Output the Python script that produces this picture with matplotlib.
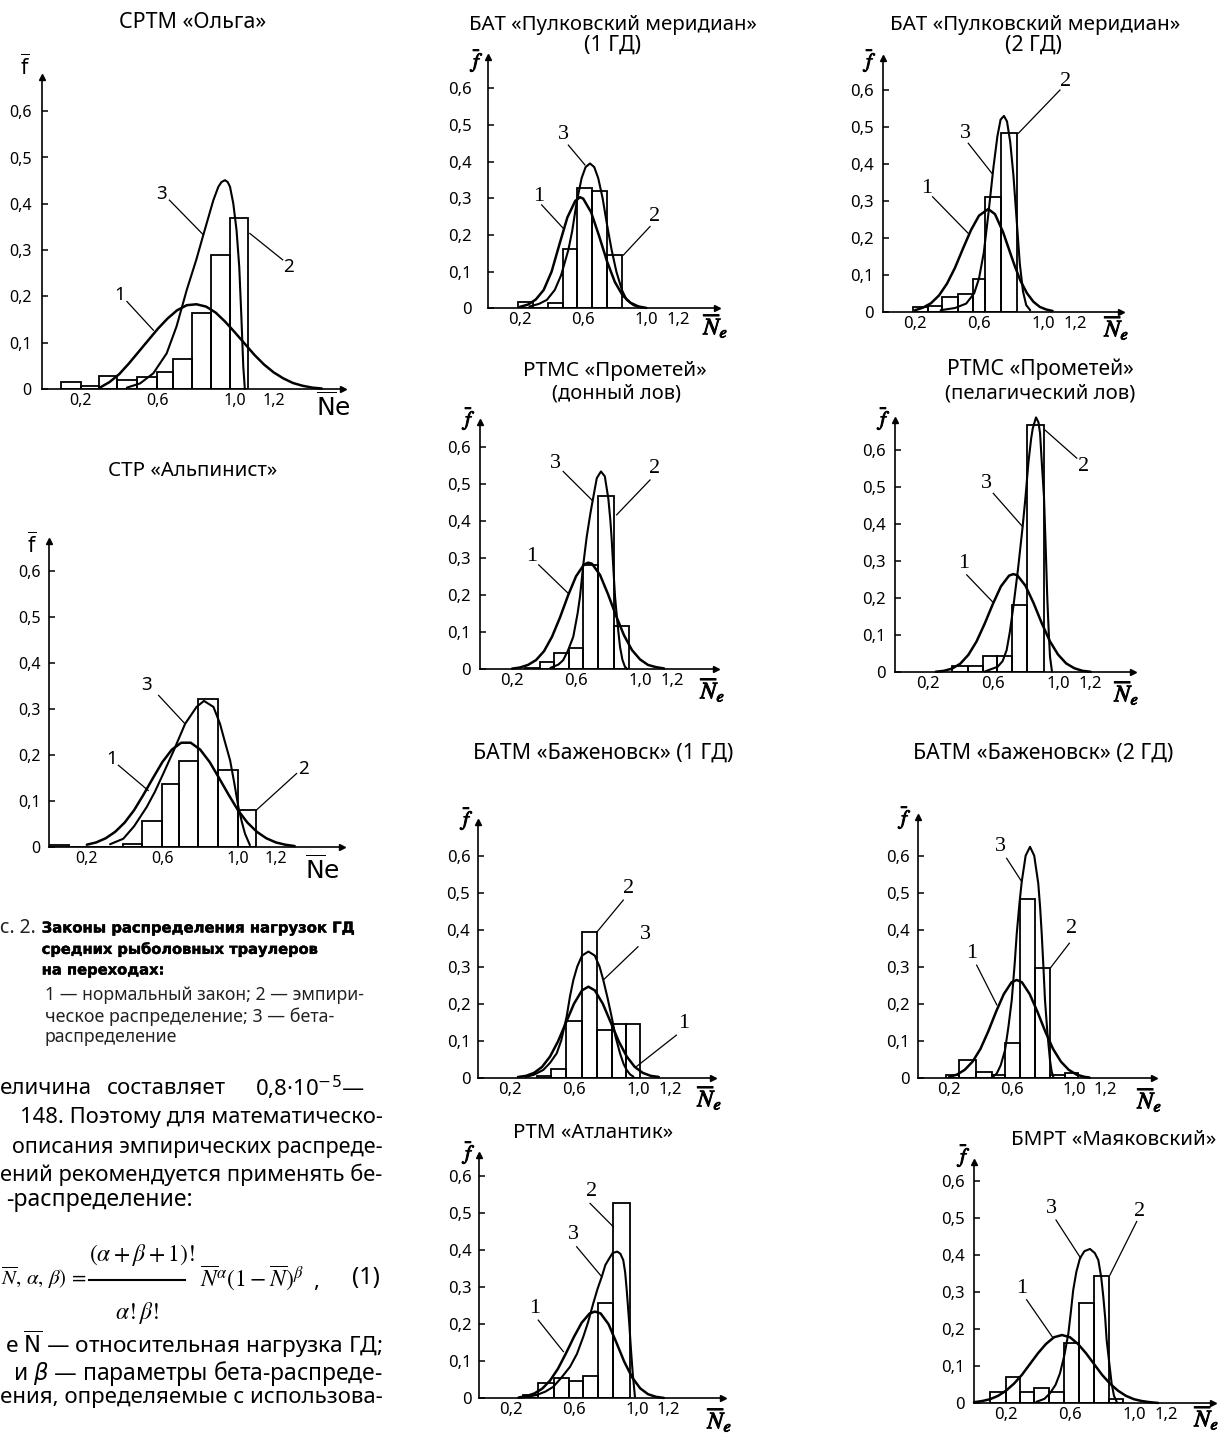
import numpy as np
import matplotlib
matplotlib.use("Agg")
import matplotlib.pyplot as plt
from matplotlib import patheffects as pe
from matplotlib.lines import Line2D

# ---------------- values ----------------
y_ticks = [0.0, 0.1, 0.2, 0.3, 0.4, 0.5, 0.6]
y_tick_labels = ["0", "0,1", "0,2", "0,3", "0,4", "0,5", "0,6"]
x_ticks = [0.2, 0.6, 1.0, 1.2]
x_tick_labels = ["0,2", "0,6", "1,0", "1,2"]

titles = [
    ["СРТМ «Ольга»"],
    ["СТР «Альпинист»"],
    ["БАТ «Пулковский меридиан»", "(1 ГД)"],
    ["БАТ «Пулковский меридиан»", "(2 ГД)"],
    ["РТМС «Прометей»", "(донный лов)"],
    ["РТМС «Прометей»", "(пелагический лов)"],
    ["БАТМ «Баженовск» (1 ГД)"],
    ["БАТМ «Баженовск» (2 ГД)"],
    ["РТМ «Атлантик»"],
    ["БМРТ «Маяковский»"],
]

# СРТМ «Ольга»
olga_edges = [0.098, 0.202, 0.297, 0.387, 0.491, 0.594, 0.680, 0.779, 0.876, 0.974, 1.069]
olga_freq = [0.016, 0.007, 0.028, 0.019, 0.025, 0.036, 0.065, 0.165, 0.289, 0.370]
olga_norm_x = [0.30, 0.35, 0.40, 0.45, 0.50, 0.55, 0.60, 0.65, 0.70, 0.75, 0.80, 0.85,
               0.90, 0.95, 1.00, 1.05, 1.10, 1.15, 1.20, 1.25, 1.30, 1.35, 1.40, 1.45]
olga_norm_y = [0.003, 0.015, 0.032, 0.055, 0.080, 0.105, 0.130, 0.152, 0.170, 0.181, 0.183, 0.178,
               0.165, 0.145, 0.122, 0.098, 0.074, 0.053, 0.036, 0.023, 0.013, 0.007, 0.003, 0.001]
olga_beta_x = [0.44, 0.508, 0.577, 0.646, 0.697, 0.75, 0.80, 0.836, 0.888, 0.914, 0.93, 0.948,
               0.962, 0.974, 0.991, 1.008, 1.022, 1.033, 1.043, 1.051]
olga_beta_y = [0.003, 0.012, 0.034, 0.077, 0.135, 0.214, 0.28, 0.333, 0.408, 0.437, 0.447, 0.451,
               0.447, 0.437, 0.401, 0.343, 0.264, 0.156, 0.048, 0.0]

# СТР «Альпинист»
alp_edges = [0.0, 0.105, 0.393, 0.49, 0.596, 0.688, 0.79, 0.896, 0.998, 1.095]
alp_freq = [0.004, 0.0, 0.007, 0.056, 0.138, 0.187, 0.323, 0.168, 0.081]
alp_norm_x = [0.20, 0.25, 0.30, 0.35, 0.40, 0.45, 0.50, 0.55, 0.60, 0.65, 0.70, 0.75,
              0.80, 0.85, 0.90, 0.95, 1.00, 1.05, 1.10, 1.15, 1.20, 1.25, 1.30]
alp_norm_y = [0.005, 0.010, 0.019, 0.033, 0.053, 0.080, 0.114, 0.150, 0.185, 0.212, 0.227, 0.227,
              0.212, 0.185, 0.150, 0.114, 0.080, 0.053, 0.033, 0.019, 0.010, 0.005, 0.002]
alp_beta_x = [0.323, 0.393, 0.45, 0.517, 0.56, 0.605, 0.66, 0.72, 0.781, 0.82, 0.87, 0.905,
              0.93, 0.958, 0.98, 1.002, 1.02, 1.037, 1.063]
alp_beta_y = [0.006, 0.018, 0.045, 0.087, 0.12, 0.16, 0.21, 0.268, 0.305, 0.318, 0.305, 0.268,
              0.23, 0.189, 0.14, 0.087, 0.055, 0.029, 0.004]

# БАТ «Пулковский меридиан» (1 ГД)
pm1_edges = [0.19, 0.28, 0.375, 0.47, 0.563, 0.658, 0.752, 0.846]
pm1_freq = [0.016, 0.0, 0.015, 0.161, 0.327, 0.321, 0.144]
pm1_norm_x = [0.20, 0.25, 0.30, 0.35, 0.40, 0.45, 0.50, 0.55, 0.58, 0.60, 0.65, 0.70,
              0.75, 0.80, 0.85, 0.90, 0.95, 1.00]
pm1_norm_y = [0.004, 0.010, 0.024, 0.05, 0.10, 0.175, 0.248, 0.293, 0.303, 0.299, 0.262, 0.198,
              0.129, 0.072, 0.035, 0.015, 0.005, 0.001]
pm1_beta_x = [0.26, 0.32, 0.37, 0.42, 0.46, 0.506, 0.53, 0.559, 0.59, 0.615, 0.643, 0.67,
              0.695, 0.723, 0.75, 0.78, 0.81, 0.845, 0.875, 0.92, 0.97]
pm1_beta_y = [0.005, 0.012, 0.023, 0.05, 0.09, 0.159, 0.21, 0.29, 0.355, 0.385, 0.395, 0.385,
              0.355, 0.30, 0.23, 0.159, 0.10, 0.05, 0.023, 0.008, 0.002]

# БАТ «Пулковский меридиан» (2 ГД)
pm2_edges = [0.19, 0.28, 0.37, 0.47, 0.56, 0.64, 0.74, 0.84]
pm2_freq = [0.012, 0.015, 0.041, 0.047, 0.088, 0.31, 0.485]
pm2_norm_x = [0.20, 0.25, 0.30, 0.35, 0.40, 0.45, 0.50, 0.55, 0.60, 0.658, 0.70, 0.75,
              0.80, 0.825, 0.86, 0.90, 0.94, 0.98, 1.02, 1.06]
pm2_norm_y = [0.004, 0.011, 0.023, 0.044, 0.076, 0.119, 0.171, 0.221, 0.26, 0.278, 0.264, 0.216,
              0.153, 0.122, 0.083, 0.05, 0.027, 0.013, 0.006, 0.002]
pm2_beta_x = [0.36, 0.45, 0.52, 0.57, 0.60, 0.63, 0.66, 0.69, 0.715, 0.735, 0.756, 0.775,
              0.795, 0.815, 0.835, 0.855, 0.875, 0.895, 0.92]
pm2_beta_y = [0.004, 0.01, 0.022, 0.05, 0.09, 0.16, 0.27, 0.39, 0.475, 0.52, 0.53, 0.515,
              0.46, 0.37, 0.25, 0.13, 0.055, 0.018, 0.004]

# РТМС «Прометей» (донный лов)
pd_edges = [0.28, 0.375, 0.4625, 0.556, 0.646, 0.74, 0.8375, 0.933]
pd_freq = [0.003, 0.02, 0.042, 0.056, 0.28, 0.468, 0.116]
pd_norm_x = [0.20, 0.25, 0.30, 0.35, 0.40, 0.45, 0.50, 0.55, 0.60, 0.65, 0.677, 0.70,
             0.75, 0.80, 0.85, 0.90, 0.95, 1.00, 1.05, 1.10, 1.15]
pd_norm_y = [0.001, 0.004, 0.011, 0.024, 0.048, 0.087, 0.139, 0.198, 0.25, 0.282, 0.287, 0.284,
             0.254, 0.202, 0.144, 0.091, 0.051, 0.026, 0.011, 0.005, 0.0015]
pd_beta_x = [0.44, 0.49, 0.52, 0.55, 0.583, 0.61, 0.625, 0.645, 0.667, 0.69, 0.704, 0.73,
             0.756, 0.78, 0.802, 0.815, 0.823, 0.835, 0.844, 0.86, 0.875, 0.89, 0.906, 0.92]
pd_beta_y = [0.003, 0.012, 0.024, 0.05, 0.087, 0.15, 0.195, 0.28, 0.357, 0.42, 0.454, 0.515,
             0.533, 0.52, 0.46, 0.40, 0.35, 0.26, 0.195, 0.12, 0.06, 0.025, 0.006, 0.0]

# РТМС «Прометей» (пелагический лов)
pp_edges = [0.352, 0.446, 0.538, 0.628, 0.716, 0.812, 0.914]
pp_freq = [0.018, 0.017, 0.044, 0.044, 0.182, 0.667]
pp_norm_x = [0.25, 0.30, 0.35, 0.40, 0.45, 0.50, 0.55, 0.60, 0.65, 0.70, 0.726, 0.75,
             0.80, 0.85, 0.90, 0.95, 1.00, 1.05, 1.10, 1.15, 1.20]
pp_norm_y = [0.0015, 0.004, 0.010, 0.023, 0.047, 0.083, 0.131, 0.184, 0.232, 0.261, 0.265, 0.262,
             0.234, 0.187, 0.133, 0.084, 0.048, 0.024, 0.011, 0.004, 0.0015]
pp_beta_x = [0.55, 0.63, 0.66, 0.685, 0.705, 0.726, 0.755, 0.783, 0.80, 0.818, 0.835, 0.845,
             0.865, 0.88, 0.89, 0.90, 0.914, 0.925, 0.934, 0.943, 0.951, 0.963]
pp_beta_y = [0.002, 0.015, 0.03, 0.06, 0.11, 0.177, 0.28, 0.393, 0.47, 0.564, 0.63, 0.658,
             0.688, 0.675, 0.645, 0.57, 0.474, 0.33, 0.204, 0.11, 0.042, 0.002]

# БАТМ «Баженовск» (1 ГД)
bz1_edges = [0.367, 0.456, 0.55, 0.648, 0.742, 0.835, 0.923, 1.0125]
bz1_freq = [0.005, 0.023, 0.153, 0.395, 0.129, 0.144, 0.144]
bz1_norm_x = [0.25, 0.30, 0.35, 0.40, 0.45, 0.50, 0.55, 0.60, 0.65, 0.69, 0.73, 0.78,
              0.83, 0.88, 0.93, 0.98, 1.03, 1.08, 1.13]
bz1_norm_y = [0.002, 0.005, 0.013, 0.029, 0.057, 0.098, 0.149, 0.200, 0.236, 0.246, 0.236, 0.200,
              0.149, 0.098, 0.057, 0.029, 0.013, 0.005, 0.002]
bz1_beta_x = [0.30, 0.35, 0.408, 0.45, 0.492, 0.52, 0.554, 0.575, 0.596, 0.62, 0.65, 0.69,
              0.73, 0.76, 0.783, 0.81, 0.835, 0.86, 0.8875, 0.91, 0.929, 0.95, 0.971]
bz1_beta_y = [0.002, 0.008, 0.021, 0.04, 0.066, 0.10, 0.165, 0.22, 0.264, 0.30, 0.33, 0.341,
              0.33, 0.30, 0.264, 0.215, 0.165, 0.11, 0.066, 0.037, 0.021, 0.009, 0.003]

# БАТМ «Баженовск» (2 ГД)
bz2_edges = [0.18, 0.265, 0.372, 0.472, 0.558, 0.654, 0.75, 0.846, 0.942, 1.028]
bz2_freq = [0.009, 0.049, 0.018, 0.009, 0.094, 0.483, 0.298, 0.009, 0.013]
bz2_norm_x = [0.20, 0.25, 0.30, 0.35, 0.40, 0.45, 0.50, 0.55, 0.60, 0.633, 0.666, 0.716,
              0.766, 0.816, 0.866, 0.916, 0.966, 1.016, 1.066, 1.10]
bz2_norm_y = [0.004, 0.010, 0.023, 0.045, 0.079, 0.126, 0.179, 0.227, 0.259, 0.265, 0.259, 0.227,
              0.179, 0.126, 0.079, 0.045, 0.023, 0.010, 0.004, 0.002]
bz2_beta_x = [0.48, 0.505, 0.53, 0.558, 0.58, 0.601, 0.62, 0.633, 0.65, 0.665, 0.69, 0.718,
              0.745, 0.771, 0.783, 0.793, 0.804, 0.814, 0.83, 0.846, 0.857, 0.867]
bz2_beta_y = [0.004, 0.013, 0.035, 0.076, 0.14, 0.211, 0.31, 0.39, 0.47, 0.53, 0.60, 0.624,
              0.60, 0.525, 0.46, 0.39, 0.30, 0.211, 0.12, 0.049, 0.018, 0.004]

# РТМ «Атлантик»
atl_edges = [0.28, 0.375, 0.477, 0.57, 0.66, 0.751, 0.85, 0.956]
atl_freq = [0.008, 0.04, 0.054, 0.047, 0.06, 0.256, 0.528]
atl_norm_x = [0.25, 0.30, 0.35, 0.40, 0.45, 0.50, 0.55, 0.60, 0.65, 0.70, 0.734, 0.77,
              0.82, 0.87, 0.92, 0.97, 1.02, 1.07, 1.12, 1.17]
atl_norm_y = [0.002, 0.006, 0.013, 0.026, 0.048, 0.080, 0.121, 0.165, 0.204, 0.229, 0.234, 0.229,
              0.200, 0.150, 0.098, 0.056, 0.027, 0.011, 0.004, 0.001]
atl_beta_x = [0.26, 0.32, 0.365, 0.42, 0.47, 0.52, 0.576, 0.62, 0.66, 0.69, 0.723, 0.75,
              0.777, 0.80, 0.818, 0.845, 0.875, 0.895, 0.913, 0.925, 0.935, 0.951, 0.962, 0.973, 0.987]
atl_beta_y = [0.002, 0.005, 0.009, 0.018, 0.031, 0.055, 0.085, 0.12, 0.166, 0.205, 0.256, 0.295,
              0.328, 0.36, 0.373, 0.392, 0.396, 0.39, 0.373, 0.34, 0.292, 0.202, 0.13, 0.067, 0.004]

# БМРТ «Маяковский»
may_edges = [0.10, 0.198, 0.2875, 0.377, 0.471, 0.5625, 0.658, 0.752, 0.846, 0.933]
may_freq = [0.031, 0.072, 0.03, 0.04, 0.03, 0.162, 0.27, 0.344, 0.011]
may_norm_x = [0.0, 0.05, 0.10, 0.15, 0.20, 0.25, 0.30, 0.35, 0.40, 0.45, 0.50, 0.55,
              0.60, 0.65, 0.70, 0.75, 0.80, 0.85, 0.90, 0.95, 1.0, 1.05, 1.10, 1.15]
may_norm_y = [0.003, 0.006, 0.011, 0.020, 0.034, 0.053, 0.077, 0.106, 0.135, 0.160, 0.178, 0.184,
              0.178, 0.160, 0.135, 0.106, 0.077, 0.053, 0.034, 0.020, 0.011, 0.006, 0.003, 0.001]
may_beta_x = [0.39, 0.44, 0.475, 0.51, 0.5375, 0.565, 0.59, 0.605, 0.62, 0.64, 0.6625, 0.69,
              0.725, 0.755, 0.777, 0.795, 0.808, 0.82, 0.829, 0.845, 0.86, 0.875, 0.892]
may_beta_y = [0.004, 0.012, 0.027, 0.05, 0.081, 0.13, 0.189, 0.245, 0.305, 0.355, 0.391, 0.41,
              0.416, 0.405, 0.386, 0.34, 0.288, 0.23, 0.171, 0.11, 0.054, 0.02, 0.004]

caption_lines = [
    "с. 2.",
    "Законы распределения нагрузок ГД",
    "средних рыболовных траулеров",
    "на переходах:",
    "1 — нормальный закон; 2 — эмпири-",
    "ческое распределение; 3 — бета-",
    "распределение",
]

body_first = ["еличина", "составляет", r"0,8·10$^{\mathsf{-5}}$—"]
body_lines = [
    "148. Поэтому для математическо-",
    "описания эмпирических распреде-",
    "ений рекомендуется применять бе-",
    "-распределение:",
    r"е $\overline{\mathsf{N}}$ — относительная нагрузка ГД;",
    r"и $\beta$ — параметры бета-распреде-",
    "ения, определяемые с использова-",
]

# ---------------- layout (pixels of the 1228x1438 page) ----------------
W, H = 1228, 1438
plt.rcParams["font.family"] = ["Noto Sans", "DejaVu Sans"]
fig = plt.figure(figsize=(W / 100, H / 100), dpi=100)
renderer = fig.canvas.get_renderer()

def fxy(px, py):
    return px / W, 1 - py / H

def ftext(px, py, s, **kw):
    x, y = fxy(px, py)
    return fig.text(x, y, s, **kw)

def fit(t, width):
    bb = t.get_window_extent(renderer)
    t.set_fontsize(t.get_fontsize() * width / bb.width)
    return t.get_fontsize()

bolder = [pe.withStroke(linewidth=0.7, foreground="black")]

# frame = (origin x, origin y, px per unit x, px per unit y, x max, y max)
panels = [
    dict(data=(olga_edges, olga_freq, olga_norm_x, olga_norm_y, olga_beta_x, olga_beta_y),
         frame=(42, 389, 193, 463, 1.56, 0.674), serif=False, ypad=7.5,
         title=[(193, 23, 147)], ylab=(25, 67), xlab=(333, 407),
         marks=[("3", 0.62, 0.422, 0.66, 0.408, 0.836, 0.333),
                ("2", 1.276, 0.264, 1.247, 0.279, 1.077, 0.336),
                ("1", 0.404, 0.203, 0.44, 0.189, 0.577, 0.127)]),
    dict(data=(alp_edges, alp_freq, alp_norm_x, alp_norm_y, alp_beta_x, alp_beta_y),
         frame=(49, 847, 189, 459.4, 1.55, 0.667), serif=False, ypad=6,
         title=[(193, 471, 169)], ylab=(32, 545), xlab=(322, 870),
         marks=[("3", 0.517, 0.352, 0.58, 0.33, 0.72, 0.268),
                ("1", 0.332, 0.192, 0.367, 0.178, 0.525, 0.123),
                ("2", 1.346, 0.17, 1.31, 0.16, 1.099, 0.081)]),
    dict(data=(pm1_edges, pm1_freq, pm1_norm_x, pm1_norm_y, pm1_beta_x, pm1_beta_y),
         frame=(488.4, 308.3, 158, 366.7, 1.445, 0.686), serif=True, ypad=12,
         title=[(613, 25, 287), (613, 45, 57)], ylab=(480, 60), xlab=(716, 326),
         marks=[("3", 0.474, 0.473, 0.506, 0.445, 0.611, 0.391),
                ("1", 0.316, 0.305, 0.337, 0.282, 0.474, 0.218),
                ("2", 1.054, 0.25, 1.023, 0.223, 0.854, 0.145)]),
    dict(data=(pm2_edges, pm2_freq, pm2_norm_x, pm2_norm_y, pm2_beta_x, pm2_beta_y),
         frame=(883, 311.7, 160, 369.4, 1.49, 0.687), serif=True, ypad=6.5,
         title=[(1035, 25, 290), (1033, 45, 57)], ylab=(873, 60), xlab=(1117, 328),
         marks=[("1", 0.273, 0.334, 0.31, 0.311, 0.533, 0.212),
                ("2", 1.138, 0.623, 1.106, 0.60, 0.846, 0.483),
                ("3", 0.513, 0.483, 0.533, 0.456, 0.68, 0.375)]),
    dict(data=(pd_edges, pd_freq, pd_norm_x, pd_norm_y, pd_beta_x, pd_beta_y),
         frame=(480, 669, 160, 370.6, 1.475, 0.667), serif=True, ypad=6.5,
         title=[(615, 371, 184), (616, 394, 128)], ylab=(472, 418), xlab=(713, 690),
         marks=[("3", 0.469, 0.555, 0.52, 0.533, 0.704, 0.454),
                ("2", 1.094, 0.541, 1.0625, 0.51, 0.854, 0.416),
                ("1", 0.323, 0.303, 0.367, 0.281, 0.552, 0.204)]),
    dict(data=(pp_edges, pp_freq, pp_norm_x, pp_norm_y, pp_beta_x, pp_beta_y),
         frame=(895, 672.3, 163, 370.5, 1.46, 0.68), serif=True, ypad=6.5,
         title=[(1040, 369, 187), (1040, 393, 190)], ylab=(887, 418), xlab=(1127, 693),
         marks=[("3", 0.563, 0.51, 0.603, 0.483, 0.783, 0.393),
                ("2", 1.155, 0.555, 1.115, 0.578, 0.92, 0.654),
                ("1", 0.42, 0.294, 0.44, 0.263, 0.599, 0.19)]),
    dict(data=(bz1_edges, bz1_freq, bz1_norm_x, bz1_norm_y, bz1_beta_x, bz1_beta_y),
         frame=(478, 1077.7, 160, 370, 1.47, 0.69), serif=True, ypad=5.5,
         title=[(603, 753, 260)], ylab=(470, 818), xlab=(710, 1098),
         marks=[("2", 0.94, 0.512, 0.908, 0.48, 0.742, 0.393),
                ("3", 1.044, 0.386, 1.0, 0.354, 0.783, 0.264),
                ("1", 1.283, 0.147, 1.24, 0.115, 0.99, 0.03)]),
    dict(data=(bz2_edges, bz2_freq, bz2_norm_x, bz2_norm_y, bz2_beta_x, bz2_beta_y),
         frame=(918, 1078.3, 156, 371, 1.51, 0.705), serif=True, ypad=6,
         title=[(1043, 753, 260)], ylab=(908, 817), xlab=(1150, 1100),
         marks=[("3", 0.526, 0.624, 0.568, 0.593, 0.665, 0.53),
                ("2", 0.985, 0.404, 0.97, 0.364, 0.846, 0.296),
                ("1", 0.344, 0.337, 0.376, 0.305, 0.505, 0.198)]),
    dict(data=(atl_edges, atl_freq, atl_norm_x, atl_norm_y, atl_beta_x, atl_beta_y),
         frame=(479, 1398.3, 158, 370.5, 1.546, 0.657), serif=True, ypad=5,
         title=[(593, 1133, 160)], ylab=(472, 1152), xlab=(720, 1420),
         marks=[("2", 0.713, 0.558, 0.703, 0.526, 0.85, 0.463),
                ("3", 0.597, 0.441, 0.618, 0.409, 0.777, 0.328),
                ("1", 0.354, 0.243, 0.375, 0.211, 0.534, 0.126)]),
    dict(data=(may_edges, may_freq, may_norm_x, may_norm_y, may_beta_x, may_beta_y),
         frame=(974, 1403.3, 160, 371, 1.495, 0.651), serif=True, ypad=6.5,
         title=[(1114, 1140, 205)], ylab=(967, 1155), xlab=(1207, 1418),
         marks=[("3", 0.486, 0.526, 0.5125, 0.494, 0.667, 0.391),
                ("2", 1.0375, 0.517, 1.017, 0.49, 0.85, 0.346),
                ("1", 0.298, 0.31, 0.329, 0.279, 0.496, 0.175)]),
]


def draw_panel(p, names):
    edges, freq, nx, ny, bx, by = p["data"]
    ox, oy, sx, sy, xmax, ymax = p["frame"]
    x0, y0 = fxy(ox, oy)
    ax = fig.add_axes([x0, y0, xmax * sx / W, ymax * sy / H])
    ax.set_xlim(0, xmax)
    ax.set_ylim(0, ymax)
    ax.patch.set_visible(False)
    ax.spines[["top", "right"]].set_visible(False)
    ax.spines[["left", "bottom"]].set_linewidth(1.2)
    ax.plot(1, 0, ">k", ms=5, transform=ax.transAxes, clip_on=False)
    ax.plot(0, 1, "^k", ms=5, transform=ax.transAxes, clip_on=False)

    tick_fs = 12 if p["serif"] else 11.5
    ax.set_yticks(y_ticks, y_tick_labels)
    ax.set_xticks(x_ticks, x_tick_labels)
    ax.tick_params(axis="y", direction="in", length=4, width=1.1,
                   pad=p["ypad"], labelsize=tick_fs)
    ax.tick_params(axis="x", length=0, pad=3, labelsize=tick_fs)

    edges = np.asarray(edges)
    ax.bar(edges[:-1], freq, width=np.diff(edges), align="edge", fill=False,
           edgecolor="black", linewidth=1.3)
    ax.plot(nx, ny, color="black", lw=1.8, clip_on=False, solid_capstyle="round")
    ax.plot(bx, by, color="black", lw=1.5, clip_on=False, solid_capstyle="round")

    for txt, tx, ty, lx0, ly0, lx1, ly1 in p["marks"]:
        if p["serif"]:
            ax.text(tx, ty, txt, ha="center", va="center", fontsize=16,
                    family="Liberation Serif", clip_on=False)
        else:
            ax.text(tx, ty, txt, ha="center", va="center", fontsize=13.5, clip_on=False)
        ax.plot([lx0, lx1], [ly0, ly1], color="black", lw=0.9, clip_on=False)

    for (cx, cy, w), s in zip(p["title"], names):
        t = ftext(cx, cy, s, ha="center", va="center", fontsize=13)
        fit(t, w)

    if p["serif"]:
        ftext(*p["ylab"], r"$\overline{f}$", ha="center", va="center", fontsize=15,
              math_fontfamily="stix", path_effects=bolder)
        ftext(*p["xlab"], r"$\overline{N}_{e}$", ha="center", va="center", fontsize=17,
              math_fontfamily="stix", path_effects=bolder)
    else:
        ftext(*p["ylab"], r"$\overline{\mathsf{f}}$", ha="center", va="center", fontsize=15,
              math_fontfamily="dejavusans")
        ftext(*p["xlab"], r"$\overline{\mathsf{N}}\mathsf{e}$", ha="center", va="center",
              fontsize=18, math_fontfamily="dejavusans")


for p, names in zip(panels, titles):
    draw_panel(p, names)

# ---------------- caption ----------------
cap_pos = [(0, 928, 36, False), (41.7, 928, 313, True), (41.7, 949, 276, True),
           (41.7, 970, 123, True), (45, 995, 317, False), (45, 1017, 288, False),
           (45, 1037, 132, False)]
for (px, py, w, is_bold), s in zip(cap_pos, caption_lines):
    if is_bold:
        t = ftext(px, py, s, ha="left", va="center", fontsize=10, fontweight="bold",
                  family=["DejaVu Sans"],
                  path_effects=[pe.withStroke(linewidth=0.3, foreground="black")])
    else:
        t = ftext(px, py, s, ha="left", va="center", fontsize=10, color="#222222")
    fit(t, w)

# ---------------- body text ----------------
lines_pos = [(20, 1117, 363), (12, 1147, 371), (0, 1175, 383), (6, 1200, 187),
             (5, 1344, 378), (13, 1373, 370), (0, 1397, 383)]
sizes = []
for (px, py, w), s in zip(lines_pos, body_lines):
    t = ftext(px, py, s, ha="left", va="center", fontsize=16,
              math_fontfamily="dejavusans")
    sizes.append(fit(t, w))
body_fs = float(np.median(sizes))

# first line is letter-spaced in the source: words placed at their own spots
first_pos = [(0, 1088), (107, 1088), (255, 1088)]
for (px, py), s in zip(first_pos, body_first):
    ftext(px, py, s, ha="left", va="center", fontsize=body_fs,
          math_fontfamily="dejavusans")

# formula (1)
ftext(1, 1278, r"$\overline{N},\,\alpha,\,\beta)\,=$", ha="left", va="center",
      fontsize=15, math_fontfamily="stix")
ftext(141.7, 1255, r"$(\alpha + \beta + 1)!$", ha="center", va="center",
      fontsize=17, math_fontfamily="stix")
ftext(136.7, 1313, r"$\alpha!\beta!$", ha="center", va="center",
      fontsize=17, math_fontfamily="stix")
fig.add_artist(Line2D([89 / W, 185 / W], [1 - 1280 / H, 1 - 1280 / H],
                      color="black", lw=1.5, transform=fig.transFigure))
ftext(200, 1278, r"$\overline{N}^{\alpha}(1 - \overline{N})^{\beta}$", ha="left", va="center",
      fontsize=17, math_fontfamily="stix")
ftext(313, 1282, ",", ha="left", va="center", fontsize=16)
ftext(352, 1278, "(1)", ha="left", va="center", fontsize=17)

fig.savefig("out.png", dpi=100)
